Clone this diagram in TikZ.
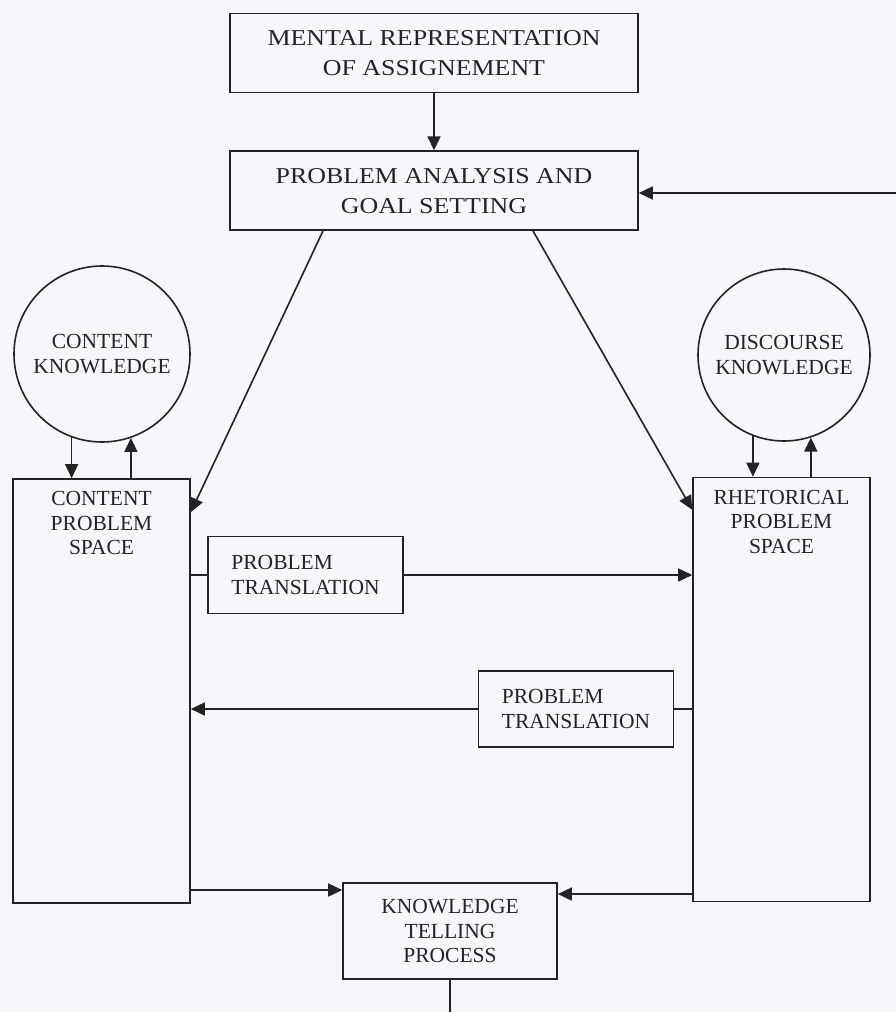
\documentclass[tikz,border=0pt]{standalone}
\usepackage{fontspec}
\setmainfont{Liberation Serif}
\newfontfamily\headfont[FakeStretch=1.14]{Liberation Serif}
\usetikzlibrary{positioning,arrows.meta}
\definecolor{paper}{RGB}{245,247,250}
\definecolor{ink}{RGB}{35,35,35}

\begin{document}
\begin{tikzpicture}[x=1pt,y=-1pt,
    every node/.style={text=ink,inner sep=0pt,font=\fontsize{21.5}{24.5}\selectfont},
    boxline/.style={draw=ink,line width=1.6pt},
    headbox/.style={boxline,rectangle,minimum width=408pt,minimum height=79pt,align=center,
        font=\headfont\fontsize{22.7}{30}\selectfont},
    spacebox/.style={boxline,rectangle,minimum width=177pt,minimum height=424pt},
    transbox/.style={boxline,rectangle,minimum width=195pt,minimum height=77pt,align=left},
    knowcircle/.style={boxline,circle,align=center},
    link/.style={draw=ink,line width=1.6pt},
    tip/.style={link,-{Triangle[length=14pt,width=13pt]}}]
    \useasboundingbox[fill=paper] (0,0) rectangle (896,1012);

    \node[headbox] (mental) at (434,53) {MENTAL REPRESENTATION\\OF ASSIGNEMENT};
    \node[headbox,below=57pt of mental] (analysis) {PROBLEM ANALYSIS AND\\GOAL SETTING};
    \node[knowcircle,minimum size=176pt] (content) at (102,354) {CONTENT\\KNOWLEDGE};
    \node[knowcircle,minimum size=172pt] (discourse) at (784,355) {DISCOURSE\\KNOWLEDGE};
    \node[spacebox,label={[anchor=north,yshift=-13pt,align=center]north:{CONTENT\\PROBLEM\\SPACE}}]
        (cps) at (101.5,691) {};
    \node[spacebox,label={[anchor=north,yshift=-13pt,align=center]north:{RHETORICAL\\PROBLEM\\SPACE}}]
        (rps) at (781.5,689.5) {};
    \node[transbox] (pt1) at (305.5,575) {PROBLEM\\TRANSLATION};
    \node[transbox,minimum height=76pt] (pt2) at (576,709) {PROBLEM\\TRANSLATION};
    \node[boxline,rectangle,minimum width=214pt,minimum height=96pt,align=center]
        (ktp) at (450,931) {KNOWLEDGE\\TELLING\\PROCESS};

    \coordinate (back) at (896,193);
    \coordinate (aleft) at ([xshift=-111pt]analysis.south);
    \coordinate (aright) at ([xshift=99pt]analysis.south);
    \coordinate (cin) at ([yshift=-34pt]cps.north east);
    \coordinate (rin) at ([yshift=-33pt]rps.north west);
    \coordinate (kin) at ([yshift=41pt]ktp.west);
    \coordinate (kout) at ([yshift=37pt]ktp.east);

    \foreach \u / \v in {mental/analysis, back/back -| analysis.east, aleft/cin, aright/rin,
        content.250/content.250 |- cps.north, cps.north -| content.289/content.289,
        discourse.249/discourse.249 |- rps.north, rps.north -| discourse.288/discourse.288,
        pt1/pt1 -| rps.west, pt2/pt2 -| cps.east,
        cps.east |- kin/kin, rps.west |- kout/kout}
        \draw[tip] (\u) -- (\v);
    \draw[link] (cps.east |- pt1) -- (pt1);
    \draw[link] (rps.west |- pt2) -- (pt2);
    \draw[link] (ktp) -- (ktp.south |- 0,1012);
\end{tikzpicture}
\end{document}
